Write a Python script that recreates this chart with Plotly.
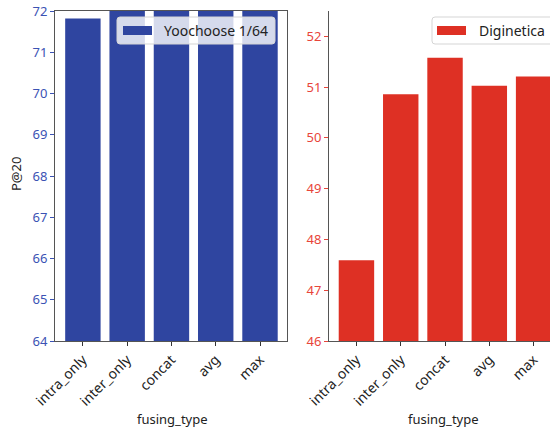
import plotly.graph_objects as go

categories = ["intra_only", "inter_only", "concat", "avg", "max"]
yoochoose_p20 = [71.82, 72.4, 72.6, 72.5, 72.5]
diginetica_p20 = [47.59, 50.86, 51.58, 51.03, 51.21]
left_yticks = [64, 65, 66, 67, 68, 69, 70, 71, 72]
right_yticks = [46, 47, 48, 49, 50, 51, 52]
series_names = ["Yoochoose 1/64", "Diginetica"]

BLUE = "#2F45A0"
RED = "#DE3024"
BLUE_TXT = "#3B52B4"
RED_TXT = "#E8453A"
SPINE = "#555555"
FONT = "Noto Sans"

xpos = list(range(len(categories)))

fig = go.Figure()
fig.add_trace(go.Bar(x=xpos, y=yoochoose_p20, width=0.8, marker=dict(color=BLUE, line=dict(width=0)),
                     name=series_names[0], xaxis="x", yaxis="y", showlegend=False))
fig.add_trace(go.Bar(x=xpos, y=diginetica_p20, width=0.8, marker=dict(color=RED, line=dict(width=0)),
                     name=series_names[1], xaxis="x2", yaxis="y2", showlegend=False))

axis_common = dict(showgrid=False, zeroline=False, showline=True, linecolor=SPINE, linewidth=1,
                   ticks="outside", ticklen=4, tickwidth=1, automargin=False)

fig.update_layout(
    width=550, height=430,
    margin=dict(l=55, r=0, t=11, b=89),
    paper_bgcolor="white", plot_bgcolor="white",
    font=dict(family=FONT, size=13, color="#222222"),
    showlegend=False,
    xaxis=dict(domain=[0, 0.4687], range=[-0.63, 4.61], tickmode="array", tickvals=xpos,
               ticktext=categories, tickangle=-45, mirror=True, tickcolor="#333333",
               tickfont=dict(size=14, color="#222222"), anchor="y", **axis_common),
    yaxis=dict(range=[64, 72], tickmode="array", tickvals=left_yticks, mirror=True,
               tickcolor=BLUE_TXT, tickfont=dict(size=13, color=BLUE_TXT), anchor="x", **axis_common),
    xaxis2=dict(domain=[0.5535, 1], range=[-0.62, 4.37], tickmode="array", tickvals=xpos,
                ticktext=categories, tickangle=-45, tickcolor="#333333",
                tickfont=dict(size=14, color="#222222"), anchor="y2", **axis_common),
    yaxis2=dict(range=[46, 52.5], tickmode="array", tickvals=right_yticks,
                tickcolor=RED_TXT, tickfont=dict(size=13, color=RED_TXT), anchor="x2", **axis_common),
)

# Axis titles
fig.add_annotation(text="fusing_type", xref="paper", yref="paper", x=(172 - 55) / 495, y=(341 - 419) / 330,
                   showarrow=False, xanchor="center", yanchor="middle", font=dict(size=13))
fig.add_annotation(text="fusing_type", xref="paper", yref="paper", x=(443 - 55) / 495, y=(341 - 419) / 330,
                   showarrow=False, xanchor="center", yanchor="middle", font=dict(size=13))
fig.add_annotation(text="P@20", xref="paper", yref="paper", x=(16 - 55) / 495, y=(341 - 174) / 330,
                   textangle=-90, showarrow=False, xanchor="center", yanchor="middle", font=dict(size=13))

# Legends (matplotlib style boxes)
def px_x(px):
    return (px - 55) / 495

def px_y(py):
    return (341 - py) / 330

def rounded_rect_path(x0, x1, y0, y1, r):
    # pixel coordinates in, paper-space path out (y0 top, y1 bottom in pixels)
    pts = [
        f"M {px_x(x0 + r)},{px_y(y0)}",
        f"L {px_x(x1 - r)},{px_y(y0)}",
        f"Q {px_x(x1)},{px_y(y0)} {px_x(x1)},{px_y(y0 + r)}",
        f"L {px_x(x1)},{px_y(y1 - r)}",
        f"Q {px_x(x1)},{px_y(y1)} {px_x(x1 - r)},{px_y(y1)}",
        f"L {px_x(x0 + r)},{px_y(y1)}",
        f"Q {px_x(x0)},{px_y(y1)} {px_x(x0)},{px_y(y1 - r)}",
        f"L {px_x(x0)},{px_y(y0 + r)}",
        f"Q {px_x(x0)},{px_y(y0)} {px_x(x0 + r)},{px_y(y0)}",
        "Z",
    ]
    return " ".join(pts)

legend_specs = [
    (series_names[0], BLUE, 117, 275, 123, 152, 162),
    (series_names[1], RED, 432, 556, 437, 466, 477),
]
for name, color, bx0, bx1, px0, px1, tx in legend_specs:
    fig.add_shape(type="path", xref="paper", yref="paper", path=rounded_rect_path(bx0, bx1, 17, 44, 3),
                  fillcolor="rgba(255,255,255,0.8)", line=dict(color="#d5d5d5", width=1), layer="above")
    fig.add_shape(type="rect", xref="paper", yref="paper", x0=px_x(px0), x1=px_x(px1),
                  y0=px_y(35), y1=px_y(26), fillcolor=color, line=dict(width=0), layer="above")
    fig.add_annotation(text=name, xref="paper", yref="paper", x=px_x(tx), y=px_y(31),
                       showarrow=False, xanchor="left", yanchor="middle", font=dict(size=14, color="#222222"))

fig.write_html("out.html", config={"displayModeBar": False},
               post_script="document.body.style.margin='0';document.body.style.overflow='hidden';")
